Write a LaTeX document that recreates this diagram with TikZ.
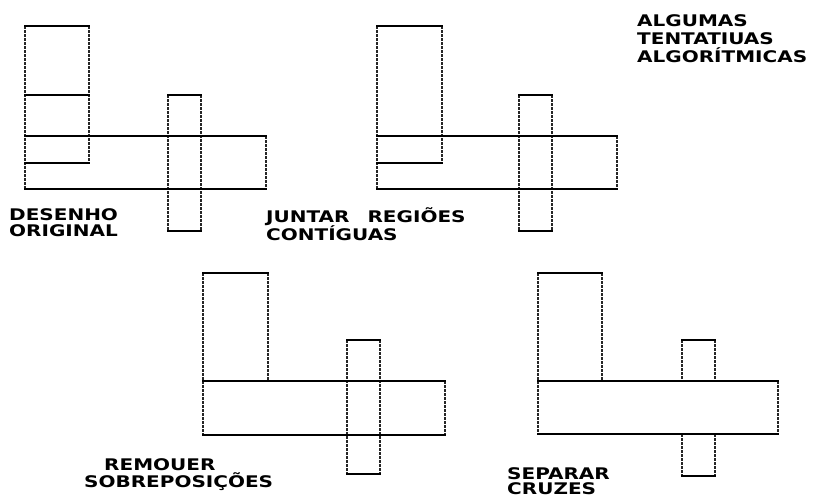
\documentclass[tikz,border=0pt]{standalone}
\usepackage{fontspec}
\newfontfamily\pix[FakeStretch=1.25]{DejaVu Sans Bold}
\tikzset{
  hline/.style={line width=2.6pt, line cap=rect, black},
  vline/.style={line width=1.2pt, black!85, dash pattern=on 3pt off 1pt},
  lbl/.style={anchor=base west, inner sep=0pt, font=\pix\fontsize{16}{16}\selectfont}
}
\begin{document}
\begin{tikzpicture}[x=1pt,y=-1pt]
\useasboundingbox (0,0) rectangle (820,498);
% ---------- panel 1: desenho original
\draw[vline] (25,26) -- (25,189);
\draw[vline] (89,26) -- (89,163);
\draw[vline] (266,136) -- (266,189);
\draw[vline] (168,95) -- (168,231);
\draw[vline] (201,95) -- (201,231);
\draw[hline] (25,26) -- (89,26);
\draw[hline] (25,95) -- (89,95);
\draw[hline] (25,163) -- (89,163);
\draw[hline] (25,136) -- (266,136);
\draw[hline] (25,189) -- (266,189);
\draw[hline] (168,95) -- (201,95);
\draw[hline] (168,231) -- (201,231);
% ---------- panel 2: juntar regioes contiguas
\draw[vline] (377,26) -- (377,189);
\draw[vline] (442,26) -- (442,163);
\draw[vline] (617,136) -- (617,189);
\draw[vline] (519,95) -- (519,231);
\draw[vline] (552,95) -- (552,231);
\draw[hline] (377,26) -- (442,26);
\draw[hline] (377,163) -- (442,163);
\draw[hline] (377,136) -- (617,136);
\draw[hline] (377,189) -- (617,189);
\draw[hline] (519,95) -- (552,95);
\draw[hline] (519,231) -- (552,231);
% ---------- panel 3: remover sobreposicoes
\draw[vline] (203,273) -- (203,435);
\draw[vline] (268,273) -- (268,381);
\draw[vline] (445,381) -- (445,435);
\draw[vline] (347,340) -- (347,474);
\draw[vline] (380,340) -- (380,474);
\draw[hline] (203,273) -- (268,273);
\draw[hline] (203,381) -- (445,381);
\draw[hline] (203,435) -- (445,435);
\draw[hline] (347,340) -- (380,340);
\draw[hline] (347,474) -- (380,474);
% ---------- panel 4: separar cruzes
\draw[vline] (538,273) -- (538,434);
\draw[vline] (602,273) -- (602,381);
\draw[vline] (778,381) -- (778,434);
\draw[vline] (682,340) -- (682,381);
\draw[vline] (715,340) -- (715,381);
\draw[vline] (682,434) -- (682,476);
\draw[vline] (715,434) -- (715,476);
\draw[hline] (538,273) -- (602,273);
\draw[hline] (538,381) -- (778,381);
\draw[hline] (538,434) -- (778,434);
\draw[hline] (682,340) -- (715,340);
\draw[hline] (682,476) -- (715,476);
% ---------- labels
\node[lbl] (t1a) at (9,220) {DESENHO};
\node[lbl] (t1b) at (9,236) {ORIGINAL};
\node[lbl] (t2a) at (266,222) {JUNTAR\hspace{18pt}REGIÕES};
\node[lbl] (t2b) at (266,240) {CONTÍGUAS};
\node[lbl] (t3a) at (104,470) {REMOUER};
\node[lbl] (t3b) at (84,487) {SOBREPOSIÇÕES};
\node[lbl] (t4a) at (507,479) {SEPARAR};
\node[lbl] (t4b) at (507,494) {CRUZES};
\node[lbl] (h1) at (637,26) {ALGUMAS};
\node[lbl] (h2) at (637,44) {TENTATIUAS};
\node[lbl] (h3) at (637,62) {ALGORÍTMICAS};
\end{tikzpicture}
\end{document}
